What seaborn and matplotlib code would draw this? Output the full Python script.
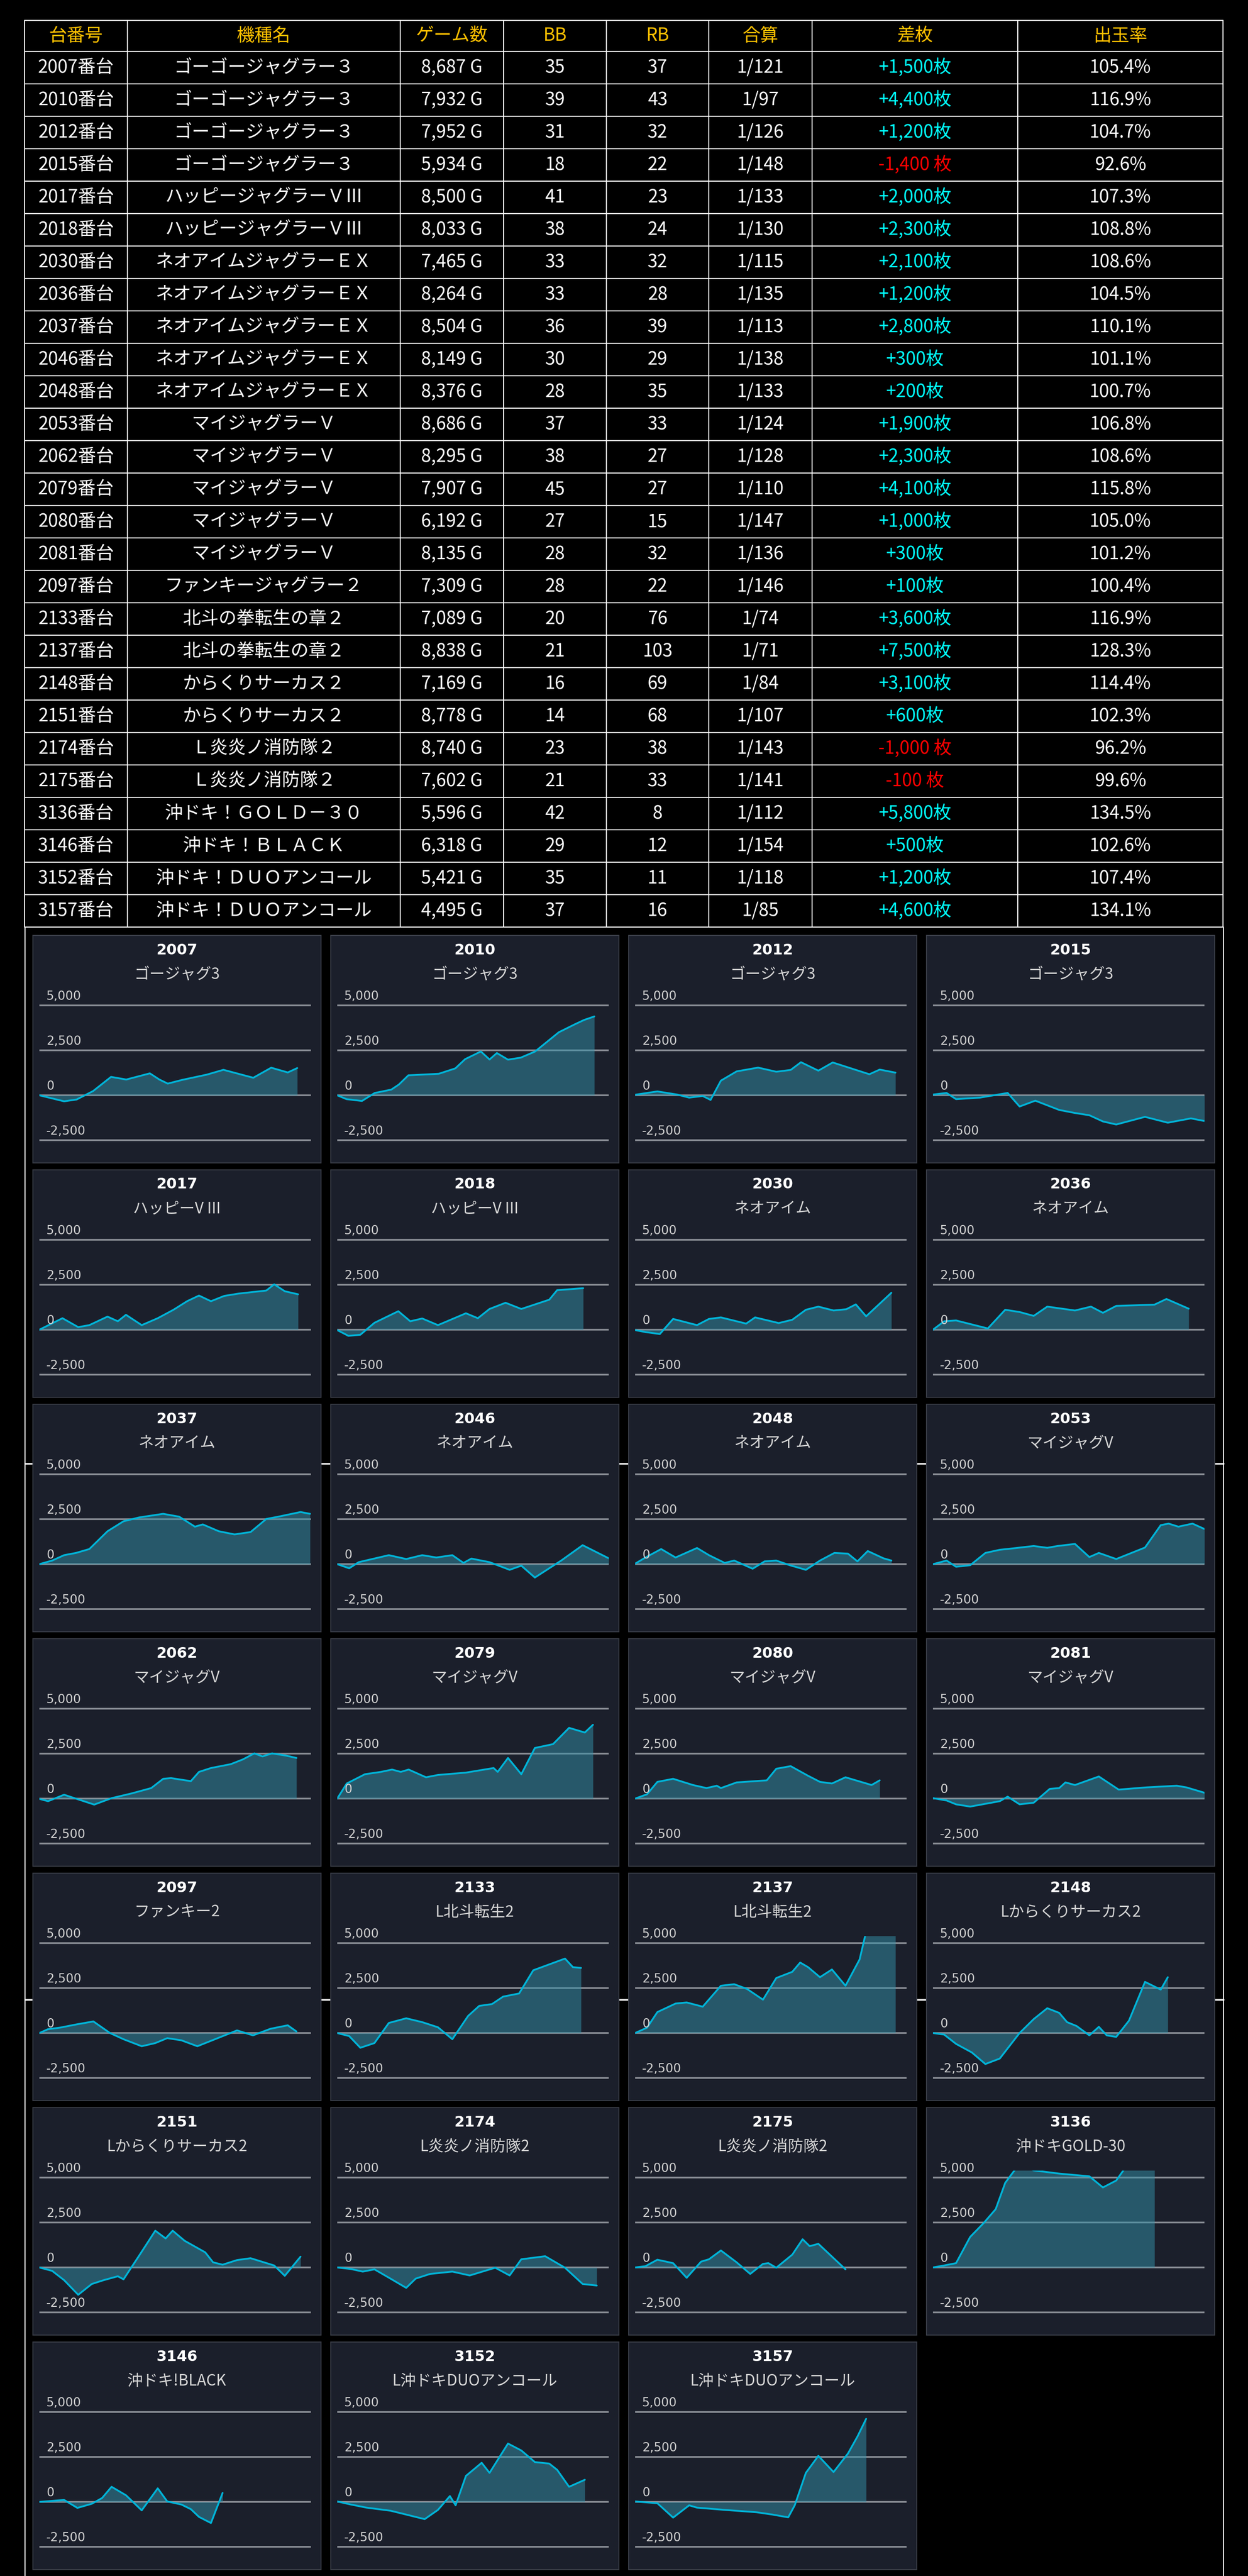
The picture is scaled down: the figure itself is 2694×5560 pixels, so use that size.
import seaborn as sns
import matplotlib.pyplot as plt
from matplotlib import transforms

# ==== Tabla de datos ====
machine_no = [2007, 2010, 2012, 2015, 2017, 2018, 2030, 2036, 2037, 2046, 2048, 2053, 2062, 2079,
              2080, 2081, 2097, 2133, 2137, 2148, 2151, 2174, 2175, 3136, 3146, 3152, 3157]
machine_name = ["ゴーゴージャグラー３"] * 4 + ["ハッピージャグラーＶⅢ"] * 2 + \
    ["ネオアイムジャグラーＥＸ"] * 5 + ["マイジャグラーＶ"] * 5 + ["ファンキージャグラー２"] + \
    ["北斗の拳転生の章２"] * 2 + ["からくりサーカス２"] * 2 + ["Ｌ炎炎ノ消防隊２"] * 2 + \
    ["沖ドキ！ＧＯＬＤ－３０", "沖ドキ！ＢＬＡＣＫ", "沖ドキ！ＤＵＯアンコール", "沖ドキ！ＤＵＯアンコール"]
games = [8687, 7932, 7952, 5934, 8500, 8033, 7465, 8264, 8504, 8149, 8376, 8686, 8295, 7907,
         6192, 8135, 7309, 7089, 8838, 7169, 8778, 8740, 7602, 5596, 6318, 5421, 4495]
bb = [35, 39, 31, 18, 41, 38, 33, 33, 36, 30, 28, 37, 38, 45, 27, 28, 28, 20, 21, 16, 14, 23, 21, 42, 29, 35, 37]
rb = [37, 43, 32, 22, 23, 24, 32, 28, 39, 29, 35, 33, 27, 27, 15, 32, 22, 76, 103, 69, 68, 38, 33, 8, 12, 11, 16]
gassan = ["1/121", "1/97", "1/126", "1/148", "1/133", "1/130", "1/115", "1/135", "1/113", "1/138",
          "1/133", "1/124", "1/128", "1/110", "1/147", "1/136", "1/146", "1/74", "1/71", "1/84",
          "1/107", "1/143", "1/141", "1/112", "1/154", "1/118", "1/85"]
diff = [1500, 4400, 1200, -1400, 2000, 2300, 2100, 1200, 2800, 300, 200, 1900, 2300, 4100,
        1000, 300, 100, 3600, 7500, 3100, 600, -1000, -100, 5800, 500, 1200, 4600]
rate = [105.4, 116.9, 104.7, 92.6, 107.3, 108.8, 108.6, 104.5, 110.1, 101.1, 100.7, 106.8, 108.6, 115.8,
        105.0, 101.2, 100.4, 116.9, 128.3, 114.4, 102.3, 96.2, 99.6, 134.5, 102.6, 107.4, 134.1]
headers = ["台番号", "機種名", "ゲーム数", "BB", "RB", "合算", "差枚", "出玉率"]

# Nombre corto de cada gráfica
chart_label = ["ゴージャグ3"] * 4 + ["ハッピーV III"] * 2 + ["ネオアイム"] * 5 + ["マイジャグV"] * 5 + \
    ["ファンキー2", "L北斗転生2", "L北斗転生2", "Lからくりサーカス2", "Lからくりサーカス2",
     "L炎炎ノ消防隊2", "L炎炎ノ消防隊2", "沖ドキGOLD-30", "沖ドキ!BLACK",
     "L沖ドキDUOアンコール", "L沖ドキDUOアンコール"]

# ==== Series de las gráficas (x: % del día, y: 差枚) ====
x_2007 = [0, 9.1, 13.7, 19.8, 26.4, 32.0, 40.7, 44.2, 47.3, 52.6, 61.7, 67.8, 78.8, 85.4, 91.5, 95.0]
y_2007 = [0, -335, -236, 236, 1024, 876, 1220, 876, 650, 856, 1150, 1417, 975, 1535, 1270, 1515]
x_2010 = [0, 3.4, 9.1, 13.8, 19.9, 22.7, 26.2, 37.4, 43.5, 47.1, 52.9, 56.1, 58.8, 62.9, 67.6, 72.9, 81.6, 87.3, 90.9, 94.7]
y_2010 = [0, -214, -316, 128, 316, 598, 1111, 1197, 1496, 2009, 2436, 1991, 2350, 1983, 2094, 2436, 3504, 3932, 4188, 4385]
x_2012 = [0, 8.2, 15.5, 19.9, 24.9, 27.8, 31.6, 37.4, 45.3, 52.0, 57.3, 61.1, 67.5, 72.8, 86.3, 90.1, 95.9]
y_2012 = [30, 215, 40, -130, -40, -257, 815, 1330, 1540, 1310, 1410, 1840, 1370, 1825, 1170, 1430, 1260]
x_2015 = [0, 5.0, 8.5, 17.3, 27.5, 31.9, 37.7, 46.5, 52.3, 57.6, 62.6, 67.5, 78.1, 86.5, 95.0, 100]
y_2015 = [40, 130, -215, -130, 130, -625, -300, -815, -985, -1110, -1455, -1625, -1200, -1525, -1285, -1430]
x_2017 = [0, 8.5, 14.3, 18.4, 25.1, 28.9, 31.9, 37.7, 43.6, 49.4, 54.4, 58.8, 63.2, 68.1, 73.4, 83.6, 86.5, 90.4, 95.3]
y_2017 = [0, 640, 145, 255, 730, 470, 830, 255, 640, 1110, 1585, 1900, 1585, 1880, 2010, 2180, 2525, 2140, 1970]
x_2018 = [0, 4.1, 8.5, 13.7, 22.5, 26.9, 31.3, 37.1, 47.4, 51.8, 56.1, 62.0, 67.8, 78.1, 81.0, 90.6]
y_2018 = [-20, -340, -280, 385, 1030, 470, 625, 255, 915, 640, 1155, 1500, 1155, 1670, 2200, 2310]
x_2030 = [0, 3.8, 9.1, 14.0, 22.8, 27.2, 31.6, 40.9, 44.2, 52.9, 57.9, 62.9, 67.5, 73.1, 77.8, 81.3, 85.1, 94.4]
y_2030 = [-20, -130, -240, 600, 255, 600, 685, 340, 685, 370, 555, 1110, 1285, 1070, 1140, 1410, 745, 2055]
x_2036 = [0, 4.1, 8.5, 20.2, 26.6, 31.9, 37.1, 42.1, 52.3, 58.2, 62.6, 67.5, 81.6, 86.0, 94.2]
y_2036 = [0, 470, 515, 70, 1110, 985, 770, 1285, 1070, 1285, 940, 1325, 1395, 1710, 1170]
x_2037 = [0, 4.7, 9.1, 13.5, 18.4, 25.1, 31.0, 36.8, 45.6, 51.5, 57.3, 60.2, 66.1, 71.9, 77.8, 83.6, 88.0, 96.2, 99.7]
y_2037 = [0, 200, 500, 625, 840, 1830, 2385, 2600, 2800, 2640, 2085, 2210, 1830, 1655, 1785, 2515, 2640, 2900, 2800]
x_2046 = [0, 4.4, 7.9, 19.0, 25.4, 31.3, 36.5, 42.4, 46.5, 49.4, 56.1, 63.5, 67.8, 72.8, 82.5, 90.4, 100]
y_2046 = [0, -230, 110, 500, 285, 500, 370, 500, 70, 310, 110, -315, -85, -745, 200, 1055, 325]
x_2048 = [0, 3.8, 9.6, 14.9, 22.8, 27.2, 33.0, 36.5, 43.3, 47.7, 52.0, 57.0, 62.9, 68.1, 73.4, 78.4, 81.9, 85.7, 91.5, 94.4]
y_2048 = [25, 370, 840, 370, 900, 500, 70, 200, -255, 155, 200, -60, -315, 200, 625, 585, 155, 730, 325, 200]
x_2053 = [0, 5.0, 8.5, 13.7, 19.3, 24.6, 28.4, 37.1, 42.1, 45.9, 52.3, 57.6, 61.1, 67.5, 78.1, 83.9, 86.8, 90.4, 95.6, 100]
y_2053 = [0, 200, -145, -60, 625, 800, 860, 1010, 910, 1010, 1125, 395, 625, 285, 925, 2170, 2255, 2085, 2255, 1955]
x_2062 = [0, 3.2, 9.1, 20.2, 26.6, 33.9, 41.2, 45.6, 48.5, 55.8, 58.8, 63.2, 70.5, 74.9, 79.2, 82.2, 85.7, 90.9, 94.7]
y_2062 = [-15, -145, 215, -335, 25, 285, 585, 1100, 1140, 970, 1485, 1700, 1915, 2175, 2515, 2345, 2515, 2390, 2260]
x_2079 = [0, 3.5, 10.2, 16.1, 20.2, 23.4, 26.3, 32.7, 37.1, 47.4, 57.6, 59.1, 62.9, 67.8, 72.8, 79.5, 85.4, 91.2, 94.2]
y_2079 = [0, 840, 1355, 1485, 1615, 1485, 1615, 1185, 1315, 1445, 1700, 1485, 2260, 1355, 2815, 3030, 3935, 3675, 4105]
x_2080 = [0, 4.4, 8.2, 14.0, 21.3, 26.3, 30.1, 31.6, 37.4, 48.5, 52.0, 57.3, 63.7, 68.1, 72.5, 77.5, 87.1, 90.1]
y_2080 = [0, 240, 930, 1100, 755, 585, 715, 585, 900, 1015, 1660, 1805, 1270, 930, 840, 1185, 755, 1015]
x_2081 = [0, 5.0, 8.5, 13.7, 24.6, 27.5, 31.9, 37.1, 43.0, 46.5, 48.8, 52.3, 61.1, 68.4, 78.7, 89.8, 93.3, 100]
y_2081 = [25, -105, -320, -445, -145, 110, -320, -230, 540, 585, 900, 755, 1230, 500, 625, 715, 625, 325]
x_2097 = [0, 3.2, 7.6, 13.5, 19.9, 26.0, 31.0, 37.7, 42.7, 47.1, 52.3, 58.2, 66.1, 72.8, 78.7, 85.1, 91.5, 94.7]
y_2097 = [0, 215, 300, 475, 645, 0, -345, -735, -560, -285, -405, -735, -260, 145, -130, 235, 430, 85]
x_2133 = [0, 4.4, 8.5, 13.7, 19.0, 25.4, 31.3, 37.1, 42.4, 48.2, 52.3, 57.0, 61.1, 67.0, 72.2, 83.9, 86.8, 89.8]
y_2133 = [0, -170, -820, -560, 560, 820, 605, 320, -345, 950, 1510, 1610, 2025, 2200, 3490, 4140, 3665, 3620]
x_2137 = [0, 4.4, 8.2, 14.9, 19.0, 24.9, 31.6, 36.5, 41.2, 47.1, 52.0, 57.9, 60.8, 63.7, 68.1, 72.5, 77.5, 82.7, 88.0, 95.9]
y_2137 = [0, 300, 1165, 1640, 1700, 1465, 2630, 2715, 2455, 1855, 3060, 3405, 3920, 3665, 3105, 3535, 2630, 4095, 7500, 7500]
x_2148 = [0, 4.1, 8.5, 14.3, 19.3, 24.6, 31.9, 37.1, 42.1, 46.5, 49.4, 52.9, 57.6, 61.1, 64.0, 67.5, 72.2, 78.1, 83.9, 86.5]
y_2148 = [0, -85, -605, -1080, -1725, -1420, 0, 775, 1380, 1120, 605, 390, -130, 345, -130, -215, 690, 2845, 2415, 3105]
x_2151 = [0, 4.7, 9.1, 14.3, 19.3, 23.7, 28.9, 31.0, 36.8, 42.7, 46.5, 49.1, 53.5, 61.1, 64.0, 67.5, 72.8, 77.8, 86.5, 90.4, 96.2]
y_2151 = [0, -190, -705, -1520, -920, -705, -490, -660, 670, 2045, 1615, 2045, 1485, 840, 285, 155, 410, 515, 110, -465, 600]
x_2174 = [0, 5.0, 9.4, 13.7, 19.6, 25.4, 28.9, 34.2, 42.4, 48.8, 58.2, 63.5, 67.8, 76.6, 83.9, 90.4, 95.6]
y_2174 = [0, -85, -230, -105, -620, -1135, -620, -360, -230, -445, -15, -445, 455, 625, -15, -920, -1005]
x_2175 = [0, 3.8, 8.2, 14.0, 19.0, 24.3, 27.2, 31.6, 37.4, 42.4, 47.1, 49.1, 52.0, 57.9, 61.7, 64.3, 67.5, 77.5]
y_2175 = [0, 70, 430, 240, -575, 325, 455, 945, 285, -360, 200, 240, -15, 715, 1570, 1185, 1315, -105]
x_3136 = [0, 4.1, 8.5, 13.7, 18.7, 23.1, 26.6, 31.5, 37.1, 46.5, 57.6, 62.6, 67.5, 72.0, 81.6]
y_3136 = [0, 110, 240, 1700, 2475, 3245, 4705, 5700, 5400, 5220, 5070, 4450, 4835, 5800, 5800]
x_3146 = [0, 3.8, 9.1, 14.0, 19.3, 23.1, 26.6, 31.9, 37.7, 43.6, 47.1, 52.3, 55.8, 58.8, 63.2, 67.5]
y_3146 = [0, 45, 110, -335, -105, 215, 840, 370, -470, 755, 25, -145, -405, -835, -1175, 500]
x_3152 = [0, 5.0, 10.8, 19.6, 25.4, 32.2, 37.1, 41.5, 43.6, 47.4, 53.2, 56.1, 62.9, 67.8, 72.8, 78.1, 81.0, 85.4, 91.2]
y_3152 = [25, -145, -320, -490, -705, -960, -445, 325, -190, 1445, 2175, 1615, 3245, 2860, 2215, 2130, 1785, 840, 1230]
x_3157 = [0, 8.2, 14.0, 19.9, 22.8, 33.0, 44.7, 50.6, 56.4, 58.8, 62.9, 67.5, 73.1, 78.4, 81.9, 85.1]
y_3157 = [25, -75, -875, -190, -320, -445, -575, -705, -860, -190, 1615, 2560, 1660, 2690, 3635, 4620]

series = {
    2007: (x_2007, y_2007), 2010: (x_2010, y_2010), 2012: (x_2012, y_2012), 2015: (x_2015, y_2015),
    2017: (x_2017, y_2017), 2018: (x_2018, y_2018), 2030: (x_2030, y_2030), 2036: (x_2036, y_2036),
    2037: (x_2037, y_2037), 2046: (x_2046, y_2046), 2048: (x_2048, y_2048), 2053: (x_2053, y_2053),
    2062: (x_2062, y_2062), 2079: (x_2079, y_2079), 2080: (x_2080, y_2080), 2081: (x_2081, y_2081),
    2097: (x_2097, y_2097), 2133: (x_2133, y_2133), 2137: (x_2137, y_2137), 2148: (x_2148, y_2148),
    2151: (x_2151, y_2151), 2174: (x_2174, y_2174), 2175: (x_2175, y_2175), 3136: (x_3136, y_3136),
    3146: (x_3146, y_3146), 3152: (x_3152, y_3152), 3157: (x_3157, y_3157),
}
y_ticks = [-2500, 0, 2500, 5000]

# ==== Estilo ====
sns.set_theme(style="dark")
plt.rcParams['font.family'] = ['Noto Sans CJK JP', 'DejaVu Sans']

W, H = 2694, 5560
GOLD = "#FFC000"
PANEL_BG = "#1b1f2b"
LINE = "#00b4d8"
FILL = "#3391aa"
GRID = "#8b8f97"

fig = plt.figure(figsize=(W / 100, H / 100), dpi=100, facecolor="black")
bg = fig.add_axes([0, 0, 1, 1])
bg.set_xlim(0, W)
bg.set_ylim(H, 0)
bg.axis("off")

# ==== Tabla ====
col_edges = [53, 275, 864, 1087, 1309, 1530, 1753, 2197, 2640]
row_edges = [44, 111] + [111 + 70 * (i + 1) for i in range(len(machine_no))]
for x in col_edges:
    bg.plot([x, x], [row_edges[0], row_edges[-1]], color="white", lw=1.6)
for y in row_edges:
    bg.plot([col_edges[0], col_edges[-1]], [y, y], color="white", lw=1.6)
# marco exterior que sigue bajo la tabla
bg.plot([54, 54], [row_edges[-1], H], color="white", lw=1.6)
bg.plot([2641, 2641], [row_edges[-1], H], color="white", lw=1.6)
for y in [3159, 4316]:
    bg.plot([54, 2641], [y, y], color="white", lw=2.5)

cx = [(col_edges[i] + col_edges[i + 1]) / 2 for i in range(len(col_edges) - 1)]
hy = (row_edges[0] + row_edges[1]) / 2
for c, h in zip(cx, headers):
    bg.text(c, hy, h, color=GOLD, fontsize=28, ha="center", va="center")

for i in range(len(machine_no)):
    y = (row_edges[i + 1] + row_edges[i + 2]) / 2
    d = diff[i]
    d_txt = f"+{d:,}枚" if d >= 0 else f"{d:,} 枚"
    d_col = "#00FFFF" if d >= 0 else "#FF0000"
    cells = [f"{machine_no[i]}番台", machine_name[i], f"{games[i]:,} G", str(bb[i]), str(rb[i]),
             gassan[i], d_txt, f"{rate[i]:.1f}%"]
    for j, (c, t) in enumerate(zip(cx, cells)):
        bg.text(c, y, t, color=d_col if j == 6 else "white", fontsize=28, ha="center", va="center")

# ==== Gráficas ====
PW, PH = 622, 491
for i, no in enumerate(machine_no):
    left = 71 + (i % 4) * 643
    top = 2019 + (i // 4) * 506
    panel = fig.add_axes([left / W, 1 - (top + PH) / H, PW / W, PH / H])
    panel.set_facecolor(PANEL_BG)
    panel.set_xticks([])
    panel.set_yticks([])
    for s in panel.spines.values():
        s.set_visible(True)
        s.set_color("#3a3e48")
        s.set_linewidth(1.5)
    panel.text(0.5, 1 - 32 / PH, str(no), color="white", fontsize=23, fontweight="bold",
               family=["DejaVu Sans"], ha="center", va="center", transform=panel.transAxes)
    panel.text(0.5, 1 - 84 / PH, chart_label[i], color="#d6d6d6", fontsize=24,
               ha="center", va="center", transform=panel.transAxes)

    ax = fig.add_axes([(left + 14) / W, 1 - (top + 477) / H, 586 / W, 341.5 / H])
    ax.patch.set_alpha(0)
    for s in ax.spines.values():
        s.set_visible(False)
    xs, ys = series[no]
    ax.fill_between(xs, ys, 0, color=FILL, alpha=0.5, lw=0, zorder=2)
    sns.lineplot(x=xs, y=ys, ax=ax, color=LINE, linewidth=2.8, zorder=3)
    ax.set_xlim(0, 100)
    ax.set_ylim(-3400, 5400)
    ax.set_yticks(y_ticks)
    ax.set_xticks([])
    ax.grid(True, axis="y", color=GRID, lw=2.6, zorder=1)
    ax.set_axisbelow(True)
    ax.tick_params(left=False, labelleft=False, bottom=False, labelbottom=False)
    trans = transforms.offset_copy(transforms.blended_transform_factory(ax.transAxes, ax.transData),
                                   fig=fig, y=12, units="dots")
    for v in y_ticks:
        ax.text(0.0256, v, f"{v:,}", color="#d0d0d0", fontsize=19, family=["DejaVu Sans"],
                ha="left", va="baseline", transform=trans)

fig.savefig("out.png", dpi=100, facecolor="black")
